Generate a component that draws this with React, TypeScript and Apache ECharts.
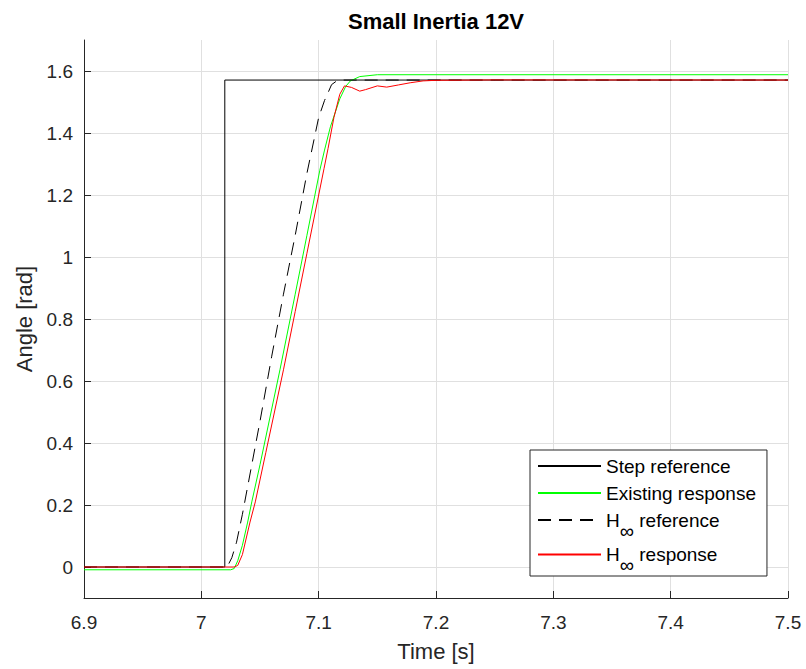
import React, { useEffect, useRef } from "react";
import * as echarts from "echarts";

const titleText = "Small Inertia 12V";
const xName = "Time [s]";
const yName = "Angle [rad]";

const xTicks = [6.9, 7.0, 7.1, 7.2, 7.3, 7.4, 7.5];
const yTicks = [0, 0.2, 0.4, 0.6, 0.8, 1.0, 1.2, 1.4, 1.6];

const seriesNames = ["Step reference", "Existing response", "H∞ reference", "H∞ response"];

const stepT = [6.9, 7.02, 7.02, 7.5];
const stepV = [0, 0, 1.5708, 1.5708];

const existingT = [6.9, 7.025, 7.028, 7.031, 7.035, 7.0395, 7.043, 7.05, 7.067, 7.08, 7.09, 7.101, 7.105, 7.11, 7.118, 7.123, 7.127, 7.135, 7.15, 7.5];
const existingV = [-0.009, -0.009, -0.005, 0.02, 0.07, 0.145, 0.21, 0.33, 0.636, 0.88, 1.07, 1.28, 1.345, 1.42, 1.51, 1.55, 1.568, 1.582, 1.588, 1.588];

const hinfRefT = [6.9, 7.022, 7.026, 7.03, 7.035, 7.04, 7.05, 7.06, 7.07, 7.08, 7.09, 7.1, 7.105, 7.108, 7.111, 7.115, 7.12, 7.5];
const hinfRefV = [0, 0, 0.03, 0.08, 0.17, 0.27, 0.47, 0.68, 0.88, 1.07, 1.27, 1.45, 1.505, 1.53, 1.556, 1.567, 1.5708, 1.5708];

const hinfRespT = [6.9, 7.028, 7.031, 7.035, 7.0415, 7.046, 7.055, 7.07, 7.08, 7.09, 7.1046, 7.108, 7.113, 7.118, 7.122, 7.128, 7.135, 7.14, 7.15, 7.158, 7.168, 7.178, 7.189, 7.2, 7.25, 7.5];
const hinfRespV = [0, 0, 0.005, 0.04, 0.145, 0.21, 0.37, 0.636, 0.824, 1.012, 1.286, 1.35, 1.45, 1.525, 1.552, 1.547, 1.535, 1.54, 1.552, 1.548, 1.555, 1.562, 1.568, 1.57, 1.5712, 1.5708];

const zip = (t: number[], v: number[]) => t.map((x, i) => [x, v[i]]);
const fmt = (v: number) => String(parseFloat(Number(v).toFixed(2)));

const FONT = "'Liberation Sans', Arial, Helvetica, sans-serif";
const AXIS_COLOR = "#262626";
const GRID_COLOR = "#e0e0e0";

export default function App() {
  const ref = useRef<HTMLDivElement>(null);

  useEffect(() => {
    document.body.style.margin = "0";
    const chart = echarts.init(ref.current!, null, { renderer: "svg" });
    const baseLine = { width: 1 };
    chart.setOption({
      animation: false,
      backgroundColor: "#ffffff",
      textStyle: { fontFamily: FONT },
      grid: { left: 84, right: 18, top: 40, bottom: 71, outerBoundsMode: "none" },
      graphic: [
        {
          type: "text",
          x: 436,
          y: 10,
          style: {
            text: titleText,
            fill: "#000000",
            font: `bold 22px ${FONT}`,
            align: "center",
            verticalAlign: "top",
          },
        },
      ],
      legend: {
        orient: "vertical",
        left: 530,
        top: 450,
        padding: [3, 11, 1, 7],
        itemGap: 1,
        itemWidth: 63,
        itemHeight: 14,
        selectedMode: false,
        backgroundColor: "#ffffff",
        borderColor: AXIS_COLOR,
        borderWidth: 1,
        borderRadius: 0,
        itemStyle: { opacity: 0 },
        data: seriesNames,
        formatter: (name: string) => name.replace("H∞", "H{sub|∞}"),
        textStyle: {
          fontFamily: FONT,
          fontSize: 19,
          lineHeight: 26,
          color: "#000000",
          rich: {
            sub: { fontFamily: FONT, fontSize: 20, padding: [17, 0, -4, 0], color: "#000000" },
          },
        },
      },
      xAxis: {
        type: "value",
        min: 6.9,
        max: 7.5,
        name: xName,
        nameLocation: "middle",
        nameGap: 42,
        nameTextStyle: { fontFamily: FONT, fontSize: 22, color: AXIS_COLOR },
        axisLine: { show: true, onZero: false, lineStyle: { color: AXIS_COLOR, width: 1 } },
        axisTick: { show: true, inside: true, length: 7, customValues: xTicks, lineStyle: { color: AXIS_COLOR } },
        axisLabel: { customValues: xTicks, margin: 15, fontFamily: FONT, fontSize: 19, color: AXIS_COLOR, formatter: fmt },
        splitLine: { show: true, lineStyle: { color: GRID_COLOR, width: 1 } },
      },
      yAxis: {
        type: "value",
        min: -0.1,
        max: 1.7,
        name: yName,
        nameLocation: "middle",
        nameGap: 47,
        nameTextStyle: { fontFamily: FONT, fontSize: 22, color: AXIS_COLOR },
        axisLine: { show: true, onZero: false, lineStyle: { color: AXIS_COLOR, width: 1 } },
        axisTick: { show: true, inside: true, length: 7, customValues: yTicks, lineStyle: { color: AXIS_COLOR } },
        axisLabel: { customValues: yTicks, margin: 11, fontFamily: FONT, fontSize: 19, color: AXIS_COLOR, formatter: fmt },
        splitLine: { show: true, lineStyle: { color: GRID_COLOR, width: 1 } },
      },
      series: [
        {
          name: seriesNames[0],
          type: "line",
          data: zip(stepT, stepV),
          showSymbol: false,
          symbol: "none",
          color: "#000000",
          lineStyle: { ...baseLine, color: "#000000" },
        },
        {
          name: seriesNames[1],
          type: "line",
          data: zip(existingT, existingV),
          showSymbol: false,
          symbol: "none",
          color: "#00ff00",
          lineStyle: { ...baseLine, color: "#00ff00" },
        },
        {
          name: seriesNames[2],
          type: "line",
          data: zip(hinfRefT, hinfRefV),
          showSymbol: false,
          symbol: "none",
          color: "#000000",
          lineStyle: { ...baseLine, color: "#000000", type: [13, 8] },
        },
        {
          name: seriesNames[3],
          type: "line",
          data: zip(hinfRespT, hinfRespV),
          showSymbol: false,
          symbol: "none",
          color: "#ff0000",
          lineStyle: { ...baseLine, color: "#ff0000" },
        },
      ],
    });
    return () => chart.dispose();
  }, []);

  return <div ref={ref} style={{ width: 806, height: 669 }} />;
}
